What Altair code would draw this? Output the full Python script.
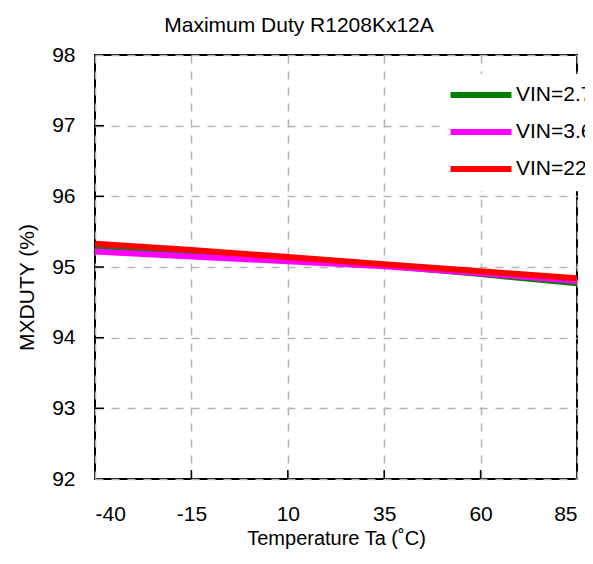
import altair as alt
import pandas as pd

temps = [-40, -15, 10, 35, 60, 85]
vin27 = [95.27, 95.19, 95.10, 95.02, 94.90, 94.77]
vin36 = [95.22, 95.15, 95.08, 95.01, 94.91, 94.80]
vin22 = [95.33, 95.24, 95.14, 95.04, 94.94, 94.84]
series_names = ["VIN=2.7V", "VIN=3.6V", "VIN=22V"]
series_colors = ["#008000", "#ff00ff", "#ff0000"]
x_ticks = [-40, -15, 10, 35, 60, 85]
y_ticks = [92, 93, 94, 95, 96, 97, 98]

rows = []
for name, vals in zip(series_names, [vin27, vin36, vin22]):
    for t, v in zip(temps, vals):
        rows.append({"Temp": t, "Duty": v, "Series": name})
df = pd.DataFrame(rows)

W, H = 482, 424
FONT = "Liberation Sans"

xscale = alt.Scale(domain=[-40, 85], nice=False, zero=False)
yscale = alt.Scale(domain=[92, 98], nice=False, zero=False)

lines = alt.Chart(df).mark_line(strokeWidth=6).encode(
    x=alt.X("Temp:Q", scale=xscale,
            axis=alt.Axis(values=x_ticks, title="Temperature Ta (˚C)",
                          labelExpr="'' + datum.value")),
    y=alt.Y("Duty:Q", scale=yscale,
            axis=alt.Axis(values=y_ticks, title="MXDUTY (%)", titleY=232,
                          labelExpr="'' + datum.value")),
    color=alt.Color("Series:N", sort=series_names,
                    scale=alt.Scale(domain=series_names, range=series_colors),
                    legend=alt.Legend(title=None, orient="none", legendX=345, legendY=19,
                                      symbolType="M-4,0H4", symbolSize=232,
                                      symbolStrokeWidth=6, symbolOffset=20,
                                      labelFontSize=21, labelFont=FONT, labelOffset=24,
                                      rowPadding=13, padding=10, fillColor="white",
                                      labelLimit=300)),
    order=alt.Order("series_order:Q"),
).transform_calculate(
    series_order="indexof(['VIN=2.7V','VIN=3.6V','VIN=22V'], datum.Series)"
)

xt = pd.DataFrame({"Temp": x_ticks[1:-1]})
yt = pd.DataFrame({"Duty": y_ticks[1:-1]})
xtick = alt.Chart(xt).mark_rule(color="black", strokeWidth=1.5).encode(
    x=alt.X("Temp:Q", scale=xscale), y=alt.value(H), y2=alt.value(H - 9))
ytick = alt.Chart(yt).mark_rule(color="black", strokeWidth=1.5).encode(
    y=alt.Y("Duty:Q", scale=yscale), x=alt.value(0), x2=alt.value(9))

chart = alt.layer(xtick, ytick, lines).properties(
    width=W, height=H,
    title=alt.Title("Maximum Duty R1208Kx12A", fontSize=21, font=FONT,
                    fontWeight="normal", offset=8, dx=-37),
    autosize=alt.AutoSizeParams(type="none"),
    padding={"left": 87, "top": 47, "right": 8, "bottom": 72},
).configure_view(stroke="black", strokeWidth=2).configure_axis(
    labelFont=FONT, titleFont=FONT, labelFontSize=21, titleFontSize=21,
    titleFontWeight="normal", labelColor="black", titleColor="black",
    tickSize=0, domain=False, grid=True, gridColor="#b4b4b4", gridDash=[8, 8],
    gridWidth=1.5,
).configure_axisX(labelPadding=24, titlePadding=4, titleFontSize=20).configure_axisY(
    labelPadding=20, titlePadding=14
)

chart.save("out.html", embed_options={"renderer": "svg", "actions": False})
